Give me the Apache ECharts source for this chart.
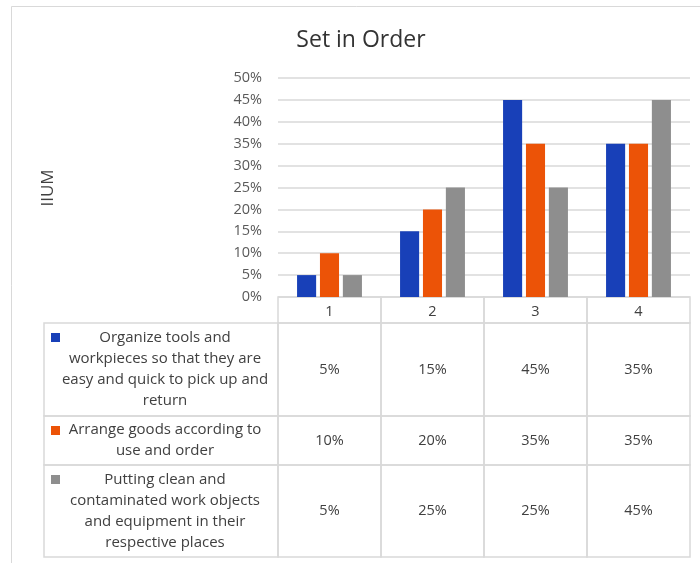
<!DOCTYPE html>
<html>
<head>
<meta charset="utf-8">
<script src="https://cdn.jsdelivr.net/npm/echarts@6/dist/echarts.min.js"></script>
<style>html,body{margin:0;padding:0;background:#fff}#c{width:700px;height:563px}</style>
</head>
<body>
<div id="c"></div>
<script>
// ---------------- data ----------------
const titleText = 'Set in Order';
const axisTitle = 'IIUM';
const categories = ['1', '2', '3', '4'];
const seriesNames = [
  'Organize tools and\nworkpieces so that they are\neasy and quick to pick up and\nreturn',
  'Arrange goods according to\nuse and order',
  'Putting clean and\ncontaminated work objects\nand equipment in their\nrespective places'
];
const organizeValues = [0.05, 0.15, 0.45, 0.35];
const arrangeValues  = [0.10, 0.20, 0.35, 0.35];
const puttingValues  = [0.05, 0.25, 0.25, 0.45];
const yTickLabels = ['0%', '5%', '10%', '15%', '20%', '25%', '30%', '35%', '40%', '45%', '50%'];

// ---------------- styling / layout ----------------
const seriesValues = [organizeValues, arrangeValues, puttingValues];
const colors = ['#1840b8', '#ec5307', '#8e8e8e'];
const FONT = '"Open Sans", "Liberation Sans", sans-serif';
const TEXT = '#404040';
const BORDER = '#d9d9d9';
const PLOT = { left: 278, right: 10, top: 78, bottom: 266 };
const TABLE = { left: 278, right: 10, top: 297, bottom: 6 };
const LABEL_LEFT = 44;
// table row edges in table-axis units (header, row1, row2, row3)
const rowEdges = [0, 26, 119, 168, 260];

const chart = echarts.init(document.getElementById('c'), null, { renderer: 'canvas' });

function fmt(v) { return Math.round(v * 100) + '%'; }

// value cells + header cells
const cellData = [];
categories.forEach((c, ci) => {
  cellData.push([ci, -1, 0]); // header cell (label comes from the x axis)
  seriesValues.forEach((vals, si) => cellData.push([ci, si, vals[ci]]));
});

function cellRender(params, api) {
  const col = api.value(0);
  const row = api.value(1) + 1;
  const bw = api.size([1, 0])[0];
  const cx = api.coord([col, 0])[0];
  const yTop = api.coord([col, rowEdges[row]])[1];
  const yBot = api.coord([col, rowEdges[row + 1]])[1];
  const children = [{
    type: 'rect',
    shape: { x: cx - bw / 2, y: yTop, width: bw, height: yBot - yTop },
    style: { fill: 'none', stroke: BORDER, lineWidth: 1.5 }
  }];
  if (row > 0) {
    children.push({
      type: 'text',
      style: {
        text: fmt(api.value(2)), x: cx, y: (yTop + yBot) / 2,
        align: 'center', verticalAlign: 'middle',
        fontFamily: FONT, fontSize: 14.5, fill: TEXT
      }
    });
  }
  return { type: 'group', children };
}

function labelRender(params, api) {
  const si = api.value(0);
  const row = si + 1;
  const bw = api.size([1, 0])[0];
  const xRight = api.coord([0, 0])[0] - bw / 2;
  const yTop = api.coord([0, rowEdges[row]])[1];
  const yBot = api.coord([0, rowEdges[row + 1]])[1];
  return {
    type: 'group',
    children: [
      { type: 'rect', shape: { x: LABEL_LEFT, y: yTop, width: xRight - LABEL_LEFT, height: yBot - yTop },
        style: { fill: 'none', stroke: BORDER, lineWidth: 1.5 } },
      { type: 'rect', shape: { x: LABEL_LEFT + 7, y: yTop + 10, width: 9, height: 9 },
        style: { fill: colors[si] } },
      { type: 'text', style: {
          text: seriesNames[si], x: (LABEL_LEFT + xRight) / 2 + 4, y: (yTop + yBot) / 2,
          align: 'center', verticalAlign: 'middle', lineHeight: 21,
          fontFamily: FONT, fontSize: 15, fill: TEXT } }
    ]
  };
}

const option = {
  animation: false,
  backgroundColor: '#fff',
  title: {
    text: titleText, left: 361, top: 29, textAlign: 'center', padding: 0,
    textStyle: { fontFamily: FONT, fontSize: 23, fontWeight: 'normal', color: '#333' }
  },
  graphic: [
    { type: 'rect', shape: { x: 11.5, y: 6.5, width: 720, height: 600 },
      style: { fill: 'none', stroke: BORDER, lineWidth: 1 }, z: -1 },
    { type: 'text', x: 48, y: 188, rotation: Math.PI / 2,
      style: { text: axisTitle, align: 'center', verticalAlign: 'middle',
               fontFamily: FONT, fontSize: 17, fill: TEXT } }
  ],
  grid: [
    Object.assign({ containLabel: false }, PLOT),
    Object.assign({ containLabel: false }, TABLE)
  ],
  xAxis: [
    { type: 'category', gridIndex: 0, data: categories,
      axisLine: { show: false }, axisTick: { show: false },
      axisLabel: { margin: 7, fontFamily: FONT, fontSize: 14.5, color: TEXT } },
    { type: 'category', gridIndex: 1, data: categories, show: false }
  ],
  yAxis: [
    { type: 'value', gridIndex: 0, min: 0, max: 0.5, interval: 0.05,
      axisLine: { show: false }, axisTick: { show: false },
      splitLine: { lineStyle: { color: BORDER, width: 1.5 } },
      axisLabel: { margin: 16, fontFamily: FONT, fontSize: 14.5, color: '#595959',
        formatter: (v) => yTickLabels[Math.round(v / 0.05)] } },
    { type: 'value', gridIndex: 1, min: rowEdges[0], max: rowEdges[rowEdges.length - 1],
      inverse: true, show: false }
  ],
  series: seriesValues.map((vals, si) => ({
    type: 'bar', name: seriesNames[si], xAxisIndex: 0, yAxisIndex: 0,
    data: vals, barGap: '20%', barCategoryGap: '37%',
    itemStyle: { color: colors[si] }
  })).concat([
    { type: 'custom', xAxisIndex: 1, yAxisIndex: 1, data: cellData,
      renderItem: cellRender, clip: false, silent: true },
    { type: 'custom', xAxisIndex: 1, yAxisIndex: 1,
      data: seriesNames.map((n, i) => [i]), renderItem: labelRender, clip: false, silent: true,
      encode: { x: 0, y: 0 } }
  ])
};
chart.setOption(option);
</script>
</body>
</html>
